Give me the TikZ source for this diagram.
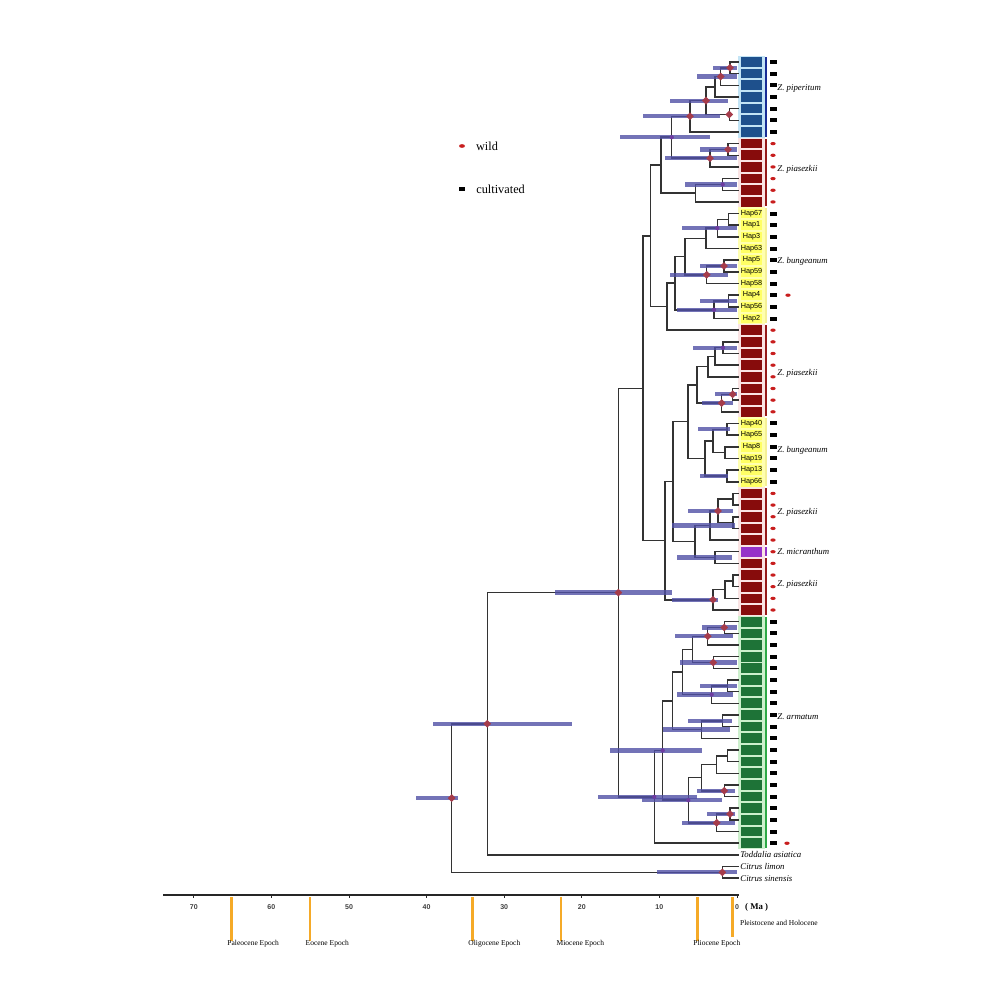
\documentclass[tikz,border=0pt]{standalone}
\usepackage{fontspec}
\setmainfont{Liberation Serif}
\setsansfont{Liberation Sans}
\usetikzlibrary{shapes.geometric,positioning}
\definecolor{pipblue}{RGB}{30,80,140}
\definecolor{pipbg}{RGB}{195,228,245}
\definecolor{piared}{RGB}{135,12,12}
\definecolor{piabg}{RGB}{250,228,228}
\definecolor{bunyel}{RGB}{255,255,100}
\definecolor{bunbg}{RGB}{255,255,175}
\definecolor{micpur}{RGB}{150,50,200}
\definecolor{armgreen}{RGB}{30,115,55}
\definecolor{armbg}{RGB}{205,240,205}
\definecolor{hpdblue}{RGB}{80,80,165}
\definecolor{suprd}{RGB}{165,60,75}
\definecolor{suppur}{RGB}{110,60,160}
\definecolor{wildred}{RGB}{200,30,30}
\definecolor{epochorange}{RGB}{245,170,40}
\definecolor{pipline}{RGB}{25,45,150}
\definecolor{pialine}{RGB}{150,25,25}
\definecolor{bunline}{RGB}{245,240,150}
\definecolor{armline}{RGB}{45,170,70}

\begin{document}
\begin{tikzpicture}[x=0.3mm,y=-0.3mm,
  branch/.style={draw=black!80,line width=1.3pt,to path={|- (\tikztotarget)}},
  hpd/.style={draw=hpdblue,line width=3.6pt,opacity=0.8},
  supdiam/.style={diamond,fill=suprd,inner sep=0pt,minimum size=2.4mm},
  supdot/.style={circle,fill=suppur,inner sep=0pt,minimum size=1.3mm},
  hap/.style={rectangle,inner sep=0pt,minimum width=6.5mm,minimum height=2.9mm,font=\sffamily\fontsize{6.2}{7}\selectfont},
  pipbox/.style={hap,fill=pipblue},
  piabox/.style={hap,fill=piared},
  bunbox/.style={hap,fill=bunyel},
  micbox/.style={hap,fill=micpur},
  armbox/.style={hap,fill=armgreen},
  cult/.style={rectangle,fill=black,inner sep=0pt,minimum width=2mm,minimum height=1.2mm},
  wild/.style={ellipse,fill=wildred,inner sep=0pt,minimum width=1.6mm,minimum height=1mm},
  taxon/.style={anchor=west,inner sep=1pt,font=\itshape\fontsize{7.5}{8}\selectfont},
  epoch/.style={draw=epochorange,line width=2.2pt},
  epochlabel/.style={anchor=west,inner sep=0pt,font=\fontsize{6.4}{7}\selectfont}]
  \useasboundingbox (0,0) rectangle (1000,1000);

  % group columns
  \fill[pipbg] (738,56) rectangle (765,138);
  \fill[piabg] (738,138) rectangle (765,207);
  \fill[bunbg] (738,207) rectangle (765,324);
  \fill[piabg] (738,324) rectangle (765,417);
  \fill[bunbg] (738,417) rectangle (765,487);
  \fill[piabg] (738,487) rectangle (765,616);
  \fill[armbg] (738,616) rectangle (765,849);

  % tips
  \foreach \i in {0,...,70}
    \coordinate (t\i) at (739,{62+11.66*\i});

  % internal nodes
  \coordinate (A) at (730,67.83);
  \coordinate (B) at (720.7,76.58);
  \coordinate (B2) at (715,86.78);
  \coordinate (D) at (729.3,114.47);
  \coordinate (C) at (706,100.63);
  \coordinate (E) at (690,116.30);
  \coordinate (G) at (728,149.45);
  \coordinate (H) at (710,158.20);
  \coordinate (F) at (671.7,137.25);
  \coordinate (I) at (722.7,184.43);
  \coordinate (J) at (695.7,193.18);
  \coordinate (K) at (661,165.22);
  \coordinate (y1) at (728.3,219.41);
  \coordinate (y2) at (717.3,228.16);
  \coordinate (y3) at (706,238.36);
  \coordinate (y4) at (724,266.05);
  \coordinate (y5) at (706.7,274.80);
  \coordinate (y6) at (685,256.58);
  \coordinate (y7) at (728.3,301.03);
  \coordinate (y8) at (714,309.78);
  \coordinate (X) at (675,283.18);
  \coordinate (W) at (667,306.68);
  \coordinate (L) at (650.7,235.95);
  \coordinate (r1) at (723,347.67);
  \coordinate (r2) at (715,356.42);
  \coordinate (r3) at (708,366.62);
  \coordinate (r4) at (732.7,394.31);
  \coordinate (r5) at (721.7,403.06);
  \coordinate (r6) at (697,384.84);
  \coordinate (q1) at (727,429.29);
  \coordinate (q2) at (725,452.61);
  \coordinate (q4) at (713,440.95);
  \coordinate (q3) at (727,475.93);
  \coordinate (q5) at (705,458.44);
  \coordinate (Y3) at (688,421.64);
  \coordinate (s1) at (733,499.25);
  \coordinate (s2) at (733,522.57);
  \coordinate (s3) at (718,510.91);
  \coordinate (s4) at (710,525.49);
  \coordinate (m1) at (715,557.55);
  \coordinate (s5) at (695,541.52);
  \coordinate (Y2) at (673,481.58);
  \coordinate (a) at (733,580.87);
  \coordinate (b) at (725,589.62);
  \coordinate (c) at (713,599.82);
  \coordinate (Y) at (665,540.70);
  \coordinate (M) at (643,388.33);
  \coordinate (ga) at (724.3,627.51);
  \coordinate (gb) at (707.7,636.26);
  \coordinate (gc) at (713.3,662.49);
  \coordinate (gd) at (692.7,649.38);
  \coordinate (ge) at (727.7,685.81);
  \coordinate (gf) at (711.7,694.56);
  \coordinate (gg) at (682.7,671.97);
  \coordinate (gh) at (722.7,720.79);
  \coordinate (gi) at (701.7,729.54);
  \coordinate (gj) at (672.7,700.76);
  \coordinate (gk) at (727.7,755.77);
  \coordinate (gl) at (716.7,764.52);
  \coordinate (gn) at (724.3,790.75);
  \coordinate (gm) at (701.7,777.64);
  \coordinate (go) at (730,814.07);
  \coordinate (gp) at (716.7,822.82);
  \coordinate (U) at (688.3,800.23);
  \coordinate (T) at (662.7,750.50);
  \coordinate (V) at (654.3,796.86);
  \coordinate (N) at (618.3,592.60);
  \coordinate (O) at (487.3,723.74);
  \coordinate (Cit) at (722.3,872.37);
  \coordinate (P) at (451.7,798.06);

  \path[branch]
    (A) edge (t0) edge (t1)
    (B) edge (A) edge (t2)
    (B2) edge (B) edge (t3)
    (D) edge (t4) edge (t5)
    (C) edge (B2) edge (D)
    (E) edge (C) edge (t6)
    (G) edge (t7) edge (t8)
    (H) edge (G) edge (t9)
    (F) edge (E) edge (H)
    (I) edge (t10) edge (t11)
    (J) edge (I) edge (t12)
    (K) edge (F) edge (J)
    (y1) edge (t13) edge (t14)
    (y2) edge (y1) edge (t15)
    (y3) edge (y2) edge (t16)
    (y4) edge (t17) edge (t18)
    (y5) edge (y4) edge (t19)
    (y6) edge (y3) edge (y5)
    (y7) edge (t20) edge (t21)
    (y8) edge (y7) edge (t22)
    (X) edge (y6) edge (y8)
    (W) edge (X) edge (t23)
    (L) edge (K) edge (W)
    (r1) edge (t24) edge (t25)
    (r2) edge (r1) edge (t26)
    (r3) edge (r2) edge (t27)
    (r4) edge (t28) edge (t29)
    (r5) edge (r4) edge (t30)
    (r6) edge (r3) edge (r5)
    (q1) edge (t31) edge (t32)
    (q2) edge (t33) edge (t34)
    (q4) edge (q1) edge (q2)
    (q3) edge (t35) edge (t36)
    (q5) edge (q4) edge (q3)
    (Y3) edge (r6) edge (q5)
    (s1) edge (t37) edge (t38)
    (s2) edge (t39) edge (t40)
    (s3) edge (s1) edge (s2)
    (s4) edge (s3) edge (t41)
    (m1) edge (t42) edge (t43)
    (s5) edge (s4) edge (m1)
    (Y2) edge (Y3) edge (s5)
    (a) edge (t44) edge (t45)
    (b) edge (a) edge (t46)
    (c) edge (b) edge (t47)
    (Y) edge (Y2) edge (c)
    (M) edge (L) edge (Y)
    (ga) edge (t48) edge (t49)
    (gb) edge (ga) edge (t50)
    (gc) edge (t51) edge (t52)
    (gd) edge (gb) edge (gc)
    (ge) edge (t53) edge (t54)
    (gf) edge (ge) edge (t55)
    (gg) edge (gd) edge (gf)
    (gh) edge (t56) edge (t57)
    (gi) edge (gh) edge (t58)
    (gj) edge (gg) edge (gi)
    (gk) edge (t59) edge (t60)
    (gl) edge (gk) edge (t61)
    (gn) edge (t62) edge (t63)
    (gm) edge (gl) edge (gn)
    (go) edge (t64) edge (t65)
    (gp) edge (go) edge (t66)
    (U) edge (gm) edge (gp)
    (T) edge (gj) edge (U)
    (V) edge (T) edge (t67)
    (N) edge (M) edge (V)
    (O) edge (N) edge (t68)
    (Cit) edge (t69) edge (t70)
    (P) edge (O) edge (Cit);

  % 95% HPD bars
  \foreach \n/\l/\r in {A/713/737,B/697/737,C/670/728,E/643/720,F/620/710,G/700/737,H/665/737,I/685/737,
      y2/682/737,y4/700/737,y5/670/728,y7/700/737,y8/677/737,r1/693/737,r4/715/737,r5/702/733,
      q1/698/730,q3/700/728,s3/688/733,s4/672/735,m1/677/732,c/672/718,ga/702/737,gb/675/733,
      gc/680/737,ge/700/737,gf/677/733,gh/688/732,gi/663/730,T/610/702,gn/697/735,go/707/735,
      gp/682/735,U/642/722,V/598/697,N/555/672,O/433/572,Cit/657/737,P/416/458}
    \draw[hpd] (\n -| \l,0) -- (\n -| \r,0);

  \foreach \n in {A,B,C,D,E,G,H,y4,y5,r4,r5,s3,c,ga,gb,gc,gn,go,gp,N,O,P,Cit}
    \node[supdiam] at (\n) {};
  \foreach \n in {F,I,y2,y8,r1,gf,T,U,V}
    \node[supdot] at (\n) {};

  % haplotype boxes
  \foreach \i in {0,...,6}
    \node[pipbox] (h\i) at (751.5,{62+11.66*\i}) {};
  \foreach \i in {7,8,...,12,23,24,...,30,37,38,...,41,43,44,...,47}
    \node[piabox] (h\i) at (751.5,{62+11.66*\i}) {};
  \foreach \i/\h in {13/Hap67,14/Hap1,15/Hap3,16/Hap63,17/Hap5,18/Hap59,19/Hap58,20/Hap4,21/Hap56,22/Hap2,
      31/Hap40,32/Hap65,33/Hap8,34/Hap19,35/Hap13,36/Hap66}
    \node[bunbox] (h\i) at (751.5,{62+11.66*\i}) {\h};
  \node[micbox] (h42) at (751.5,551.72) {};
  \foreach \i in {48,...,67}
    \node[armbox] (h\i) at (751.5,{62+11.66*\i}) {};

  % group bars
  \draw[pipline,line width=1.6pt] (766,57) -- (766,137);
  \draw[pialine,line width=1.6pt] (766,139) -- (766,206);
  \draw[bunline,line width=1.6pt] (766,208) -- (766,323);
  \draw[pialine,line width=1.6pt] (766,325) -- (766,416);
  \draw[bunline,line width=1.6pt] (766,418) -- (766,486);
  \draw[pialine,line width=1.6pt] (766,488) -- (766,545);
  \draw[micpur,line width=1.6pt] (766,547) -- (766,556);
  \draw[pialine,line width=1.6pt] (766,558) -- (766,615);
  \draw[armline,line width=1.6pt] (766,617) -- (766,848);

  % wild / cultivated
  \foreach \i in {0,1,...,6,13,14,...,22,31,32,...,36,48,49,...,67}
    \node[cult] at (773.5,{62+11.66*\i}) {};
  \foreach \i in {7,8,...,12,23,24,...,30,37,38,...,47}
    \node[wild] at (773,{62+11.66*\i}) {};
  \node[wild] at (788,295.2) {};
  \node[wild] at (787,843.22) {};

  % species
  \node[taxon] at (776,89) {Z. piperitum};
  \node[taxon] at (776,169) {Z. piasezkii};
  \node[taxon] at (776,261) {Z. bungeanum};
  \node[taxon] at (776,373) {Z. piasezkii};
  \node[taxon] at (776,450) {Z. bungeanum};
  \node[taxon] at (776,512) {Z. piasezkii};
  \node[taxon] at (776,552) {Z. micranthum};
  \node[taxon] at (776,584) {Z. piasezkii};
  \node[taxon] at (776,717) {Z. armatum};
  \node[taxon] at (t68) {Toddalia asiatica};
  \node[taxon] at (t69) {Citrus limon};
  \node[taxon] at (t70) {Citrus sinensis};

  % legend
  \node[wild,minimum width=1.8mm,minimum height=1.1mm] (wdot) at (462,146) {};
  \node[right=2mm of wdot,font=\fontsize{10.5}{12}\selectfont] {wild};
  \node[cult] (cdash) at (462,189) {};
  \node[right=2mm of cdash,font=\fontsize{10.5}{12}\selectfont] {cultivated};

  % time axis
  \draw[black!85,line width=1.1pt] (163,895) -- (739,895);
  \foreach \m in {0,10,...,70} {
    \draw[black!85,line width=0.8pt] ({737-7.76*\m},895) -- ({737-7.76*\m},898);
    \node[font=\sffamily\bfseries\fontsize{6}{7}\selectfont,text=black!75] at ({737-7.76*\m},907) {\m};
  }
  \node[anchor=west,inner sep=0pt,font=\bfseries\fontsize{7.5}{8}\selectfont] at (745,907) {( Ma )};

  % epochs
  \foreach \x/\e in {231.7/Paleocene Epoch,310/Eocene Epoch,472.7/Oligocene Epoch,561/Miocene Epoch,697.7/Pliocene Epoch} {
    \draw[epoch] (\x,897) -- (\x,941);
    \node[epochlabel] at (\x-4.5,944) {\e};
  }
  \draw[epoch] (732.3,897) -- (732.3,937);
  \node[epochlabel] at (740,923) {Pleistocene and Holocene};
\end{tikzpicture}
\end{document}
